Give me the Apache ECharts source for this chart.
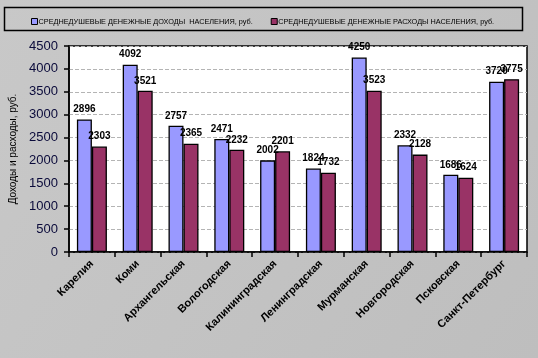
<!DOCTYPE html>
<html><head><meta charset="utf-8">
<script src="https://cdn.jsdelivr.net/npm/echarts@6/dist/echarts.min.js"></script>
<style>html,body{margin:0;padding:0;}#c{width:538px;height:358px;}</style>
</head><body><div id="c"></div>
<script>
const categories = ['Карелия','Коми','Архангельская','Вологодская','Калининградская','Ленинградская','Мурманская','Новгородская','Псковская','Санкт-Петербург'];
const incomeName = 'СРЕДНЕДУШЕВЫЕ ДЕНЕЖНЫЕ ДОХОДЫ  НАСЕЛЕНИЯ, руб.';
const expenseName = 'СРЕДНЕДУШЕВЫЕ ДЕНЕЖНЫЕ РАСХОДЫ НАСЕЛЕНИЯ, руб.';
const income = [2896,4092,2757,2471,2002,1824,4250,2332,1686,3720];
const expense = [2303,3521,2365,2232,2201,1732,3523,2128,1624,3775];
const yTicks = [0,500,1000,1500,2000,2500,3000,3500,4000,4500];

const chart = echarts.init(document.getElementById('c'), null, {renderer:'canvas'});
const lbl = {show:true, position:'top', distance:5, fontFamily:'Arial', fontWeight:'bold', fontSize:10, color:'#000'};
chart.setOption({
  animation:false,
  backgroundColor:{type:'linear',x:0,y:0,x2:1,y2:1,colorStops:[{offset:0,color:'#c8c8c8'},{offset:1,color:'#bebebe'}]},
  graphic:[{type:'rect',shape:{x:4.5,y:7.5,width:518,height:23},style:{fill:'none',stroke:'#000',lineWidth:1.5},z:0}],
  legend:{
    top:13, left:26, itemGap:18, itemWidth:6, itemHeight:6, icon:'rect',
    textStyle:{fontFamily:'Arial', fontSize:7.3, color:'#000', padding:[0,0,0,-4]},
    data:[{name:incomeName, itemStyle:{borderColor:'#000',borderWidth:1}},{name:expenseName,itemStyle:{borderColor:'#000',borderWidth:1}}]
  },
  grid:{left:69, right:11, top:46, bottom:106, backgroundColor:'#fff', show:true, borderColor:'#000', borderWidth:1.5},
  xAxis:{
    type:'category', data:categories,
    axisLine:{lineStyle:{color:'#000',width:1.5}},
    axisTick:{show:true, length:5, lineStyle:{color:'#000',width:1.5}},
    axisLabel:{rotate:45, interval:0, fontFamily:'Arial', fontWeight:'bold', fontSize:11, color:'#000', margin:10}
  },
  yAxis:{
    type:'value', min:0, max:4500, interval:500,
    name:'Доходы и расходы, руб.', nameLocation:'middle', nameGap:46,
    nameTextStyle:{fontFamily:'Arial', fontSize:10, color:'#000'},
    axisLine:{show:true, lineStyle:{color:'#000',width:1.5}},
    axisTick:{show:true, length:5, inside:false, lineStyle:{color:'#000',width:1.5}},
    axisLabel:{fontFamily:'Arial', fontSize:13, color:'#0a0a3a', margin:11, formatter:v=>yTicks.includes(v)?String(v):''},
    splitLine:{show:true, lineStyle:{color:'#b4b4b4', type:'dashed', width:1}}
  },
  series:[
    {name:incomeName, type:'bar', data:income, barWidth:15, barGap:'0%',
     itemStyle:{color:'#9999ff', borderColor:'#000', borderWidth:1.3}, label:lbl},
    {name:expenseName, type:'bar', data:expense, barWidth:15, barGap:'0%',
     itemStyle:{color:'#993366', borderColor:'#000', borderWidth:1.3}, label:lbl}
  ]
});
</script></body></html>
